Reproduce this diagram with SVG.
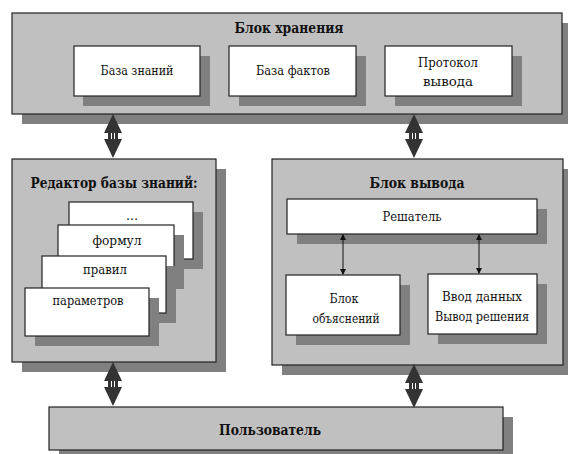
<svg xmlns="http://www.w3.org/2000/svg" width="568" height="454" viewBox="0 0 568 454">
<style>
.blk{fill:#c0c0c0;stroke:#222;stroke-width:1.2}
.box{fill:#fff;stroke:#222;stroke-width:1.2}
.sh{fill:#808080}
text{font-family:'DejaVu Serif Condensed','DejaVu Serif',serif;font-size:13.5px;fill:#111;text-anchor:middle}
.b{font-weight:bold;font-size:14.5px}
.ar{fill:#333}
.thin{stroke:#111;stroke-width:1;fill:none;marker-start:url(#ms);marker-end:url(#me)}
</style>
<defs>
<marker id="me" markerWidth="6" markerHeight="6" refX="5" refY="3" orient="auto" markerUnits="userSpaceOnUse"><path d="M0,0 L6,3 L0,6 z" fill="#111"/></marker>
<marker id="ms" markerWidth="6" markerHeight="6" refX="1" refY="3" orient="auto" markerUnits="userSpaceOnUse"><path d="M6,0 L0,3 L6,6 z" fill="#111"/></marker>
<g id="bigarrow">
<path class="ar" d="M0,0 L9,19 L-9,19 z"/>
<rect class="ar" x="-5" y="19" width="10" height="6"/>
<rect x="-2" y="19" width="1" height="6" fill="#fff"/>
<rect x="1" y="19" width="1" height="6" fill="#fff"/>
<path class="ar" d="M-9,25 L9,25 L0,44 z"/>
</g>
</defs>

<g id="storage">
<rect class="sh" x="22" y="23" width="550" height="101"/>
<rect class="blk" x="12" y="13" width="550" height="101"/>
<text class="b" x="289" y="33" textLength="109" lengthAdjust="spacingAndGlyphs">Блок хранения</text>
</g>
<g id="kb">
<rect class="sh" x="83" y="56" width="127" height="50"/>
<rect class="box" x="74" y="46" width="126" height="50"/>
<text x="137" y="75" textLength="73" lengthAdjust="spacingAndGlyphs">База знаний</text>
</g>
<g id="facts">
<rect class="sh" x="239" y="56" width="127" height="50"/>
<rect class="box" x="229" y="46" width="127" height="50"/>
<text x="293" y="75" textLength="74" lengthAdjust="spacingAndGlyphs">База фактов</text>
</g>
<g id="protocol">
<rect class="sh" x="395" y="56" width="127" height="50"/>
<rect class="box" x="385" y="46" width="127" height="50"/>
<text x="448" y="67" textLength="60" lengthAdjust="spacingAndGlyphs">Протокол</text>
<text x="448" y="86" textLength="50" lengthAdjust="spacingAndGlyphs">вывода</text>
</g>

<g id="editor">
<rect class="sh" x="22" y="169" width="204" height="203"/>
<rect class="blk" x="12" y="159" width="204" height="203"/>
<text class="b" x="114" y="188" textLength="167" lengthAdjust="spacingAndGlyphs">Редактор базы знаний:</text>
</g>
<g id="card-etc">
<rect class="sh" x="79" y="212" width="124" height="57"/>
<rect class="box" x="69" y="202" width="124" height="57"/>
<text x="132" y="220">…</text>
</g>
<g id="card-formul">
<rect class="sh" x="68" y="235" width="116" height="54"/>
<rect class="box" x="58" y="225" width="116" height="54"/>
<text x="117" y="245" textLength="49" lengthAdjust="spacingAndGlyphs">формул</text>
</g>
<g id="card-pravil">
<rect class="sh" x="52" y="266" width="124" height="57"/>
<rect class="box" x="42" y="256" width="124" height="57"/>
<text x="105" y="274" textLength="44" lengthAdjust="spacingAndGlyphs">правил</text>
</g>
<g id="card-param">
<rect class="sh" x="35" y="298" width="124" height="48"/>
<rect class="box" x="25" y="288" width="124" height="48"/>
<text x="88" y="305" textLength="71" lengthAdjust="spacingAndGlyphs">параметров</text>
</g>

<g id="inference">
<rect class="sh" x="282" y="169" width="291" height="206"/>
<rect class="blk" x="272" y="159" width="291" height="206"/>
<text class="b" x="417" y="188" textLength="95" lengthAdjust="spacingAndGlyphs">Блок вывода</text>
</g>
<g id="solver">
<rect class="sh" x="297" y="209" width="250" height="35"/>
<rect class="box" x="287" y="199" width="250" height="35"/>
<text x="412" y="221" textLength="59" lengthAdjust="spacingAndGlyphs">Решатель</text>
</g>
<g id="explain">
<rect class="sh" x="296" y="285" width="114" height="60"/>
<rect class="box" x="286" y="275" width="114" height="60"/>
<text x="344" y="303" textLength="29" lengthAdjust="spacingAndGlyphs">Блок</text>
<text x="346" y="323" textLength="67" lengthAdjust="spacingAndGlyphs">объяснений</text>
</g>
<g id="io">
<rect class="sh" x="438" y="284" width="109" height="60"/>
<rect class="box" x="428" y="274" width="109" height="60"/>
<text x="482" y="301" textLength="80" lengthAdjust="spacingAndGlyphs">Ввод данных</text>
<text x="482" y="321" textLength="94" lengthAdjust="spacingAndGlyphs">Вывод решения</text>
</g>

<g id="user">
<rect class="sh" x="59" y="417" width="454" height="43"/>
<rect class="blk" x="49" y="407" width="454" height="43"/>
<text class="b" x="270" y="435" textLength="102" lengthAdjust="spacingAndGlyphs">Пользователь</text>
</g>

<g id="connectors">
<use href="#bigarrow" x="113" y="114"/>
<use href="#bigarrow" x="414" y="114"/>
<use href="#bigarrow" x="113" y="362"/>
<use href="#bigarrow" x="414" y="364"/>
<line class="thin" x1="343" y1="235" x2="343" y2="274"/>
<line class="thin" x1="479" y1="235" x2="479" y2="273"/>
</g>
</svg>
